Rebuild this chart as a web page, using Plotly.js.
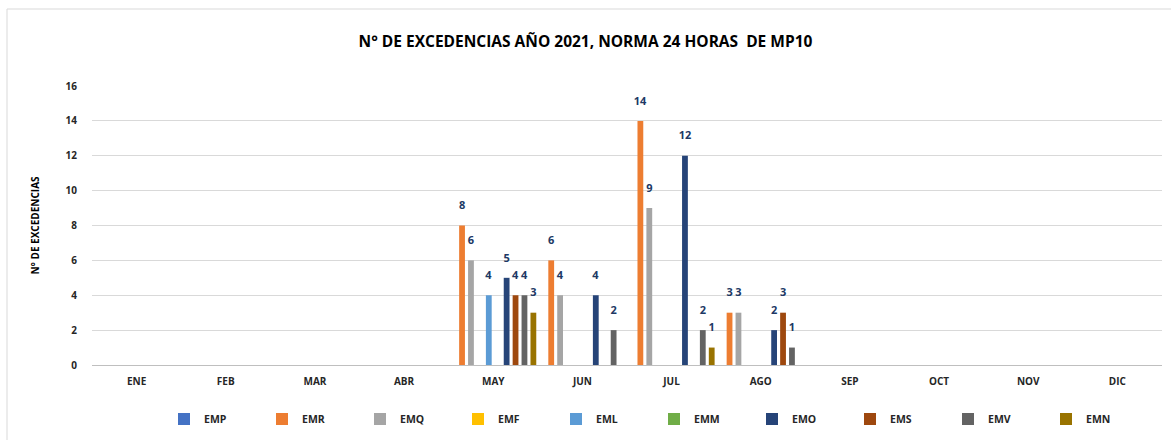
<!DOCTYPE html>
<html>
<head>
<meta charset="utf-8">
<script src="https://cdn.plot.ly/plotly-3.0.1.min.js"></script>
<style>html,body{margin:0;padding:0;background:#fff;}#chart{width:1171px;height:440px;}</style>
</head>
<body>
<div id="chart"></div>
<script>
const months = ["ENE","FEB","MAR","ABR","MAY","JUN","JUL","AGO","SEP","OCT","NOV","DIC"];
const stations = ["EMP","EMR","EMQ","EMF","EML","EMM","EMO","EMS","EMV","EMN"];
const colors = ["#4472C4","#ED7D31","#A5A5A5","#FFC000","#5B9BD5","#70AD47","#264478","#9E480E","#636363","#997300"];
const N = null;
const EMP = [N,N,N,N,N,N,N,N,N,N,N,N];
const EMR = [N,N,N,N,8,6,14,3,N,N,N,N];
const EMQ = [N,N,N,N,6,4,9,3,N,N,N,N];
const EMF = [N,N,N,N,N,N,N,N,N,N,N,N];
const EML = [N,N,N,N,4,N,N,N,N,N,N,N];
const EMM = [N,N,N,N,N,N,N,N,N,N,N,N];
const EMO = [N,N,N,N,5,4,12,2,N,N,N,N];
const EMS = [N,N,N,N,4,N,N,3,N,N,N,N];
const EMV = [N,N,N,N,4,2,2,1,N,N,N,N];
const EMN = [N,N,N,N,3,N,1,N,N,N,N,N];
const series = [EMP,EMR,EMQ,EMF,EML,EMM,EMO,EMS,EMV,EMN];

const FONT = "Open Sans, Liberation Sans, sans-serif";
const traces = stations.map((name,i)=>({
  type:"bar", name:name, x:months, y:series[i],
  marker:{color:colors[i]},
  texttemplate:"<b>%{y}</b><br><span style='font-size:6px'> </span>", textposition:"outside", constraintext:"none", cliponaxis:false,
  textfont:{family:FONT, size:11, color:"#203864"},
  hoverinfo:"x+y+name"
}));

const layout = {
  width:1171, height:440,
  margin:{l:92, r:9, t:86, b:75, autoexpand:false},
  paper_bgcolor:"#fff", plot_bgcolor:"#fff",
  font:{family:FONT, color:"#262626"},
  barmode:"group", bargap:0.0, bargroupgap:0.35,
  title:{text:"<b>N° DE EXCEDENCIAS AÑO 2021, NORMA 24 HORAS  DE MP10</b>", font:{size:15.5, color:"#000"},
         x:0.5, xref:"container", y:1-42/440, yref:"container", yanchor:"middle"},
  xaxis:{type:"category", showgrid:false, showline:true, linecolor:"#bfbfbf", linewidth:1, automargin:false,
         tickfont:{size:10, color:"#262626", family:FONT, weight:"bold"}, ticks:"", ticklabelstandoff:7},
  yaxis:{range:[0,16], dtick:2, showgrid:true, gridcolor:"#d9d9d9", zeroline:false, showline:false, automargin:false,
         tickfont:{size:10, color:"#262626", family:FONT, weight:"bold"}, ticks:"", ticklabelstandoff:14,
         title:{text:"<b>N° DE EXCEDENCIAS</b>", font:{size:10, color:"#000"}, standoff:24}},
  legend:{orientation:"h", x:0.5+27/1070, xanchor:"center", y:-54/279, yanchor:"middle", itemwidth:30,
          font:{size:10.5, color:"#262626", family:FONT, weight:"bold"}, entrywidth:53, entrywidthmode:"pixels",
          traceorder:"normal"},
  shapes:[{type:"rect", xref:"paper", yref:"paper", x0:(7-92)/1070, x1:(1180-92)/1070, y0:-(450-365)/279, y1:(365-9)/279,
           line:{color:"#d9d9d9", width:1}, fillcolor:"rgba(0,0,0,0)", layer:"below"}],
  showlegend:true
};
Plotly.newPlot("chart", traces, layout, {displayModeBar:false, staticPlot:true});
</script>
</body>
</html>
